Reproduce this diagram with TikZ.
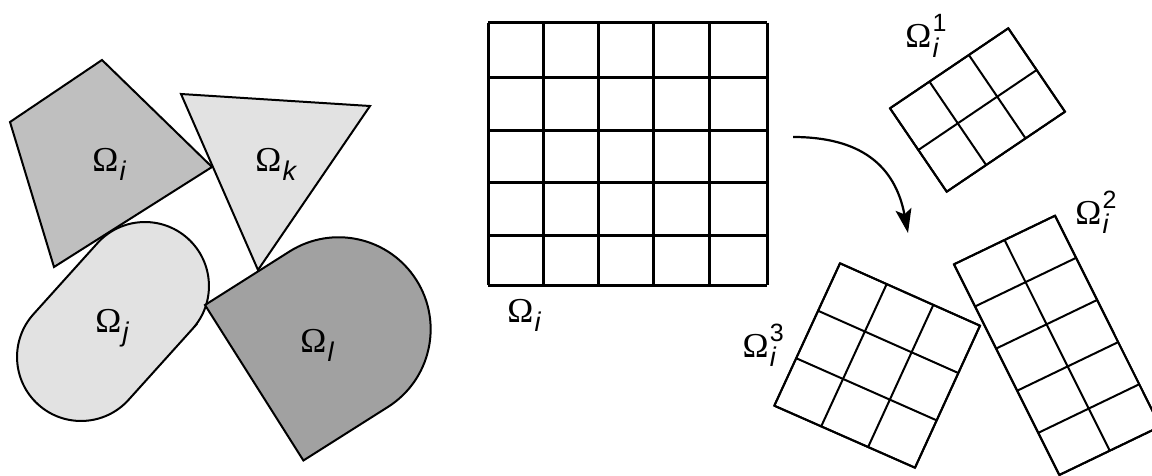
\documentclass[tikz,border=0pt]{standalone}
\usepackage{fontspec}
\usetikzlibrary{arrows.meta,calc}
\newfontfamily\omfont{Liberation Serif}
\newfontfamily\lsans{Liberation Sans}
\newcommand{\Omlab}[2]{{\omfont\fontsize{17.5}{17.5}\selectfont Ω}\kern0.6pt\makebox[0pt][l]{\raisebox{-4.6pt}{\lsans\itshape\fontsize{13.5}{13.5}\selectfont #1}}{\raisebox{8pt}{\lsans\fontsize{12.5}{12.5}\selectfont #2}}}
\definecolor{gmid}{gray}{0.75}
\definecolor{glight}{gray}{0.886}
\definecolor{gdark}{gray}{0.63}
\tikzset{
  region/.style={draw=black, line width=1pt, line join=miter},
  lab/.style={anchor=base west, inner sep=0pt},
  biggrid/.style={draw=black, line width=1.5pt},
  smallgrid/.style={draw=black, line width=1pt},
  arr/.style={draw=black, line width=1.1pt, -{Stealth[length=12pt,width=8pt,inset=2.5pt]}}
}
\begin{document}
\begin{tikzpicture}[x=0.5pt,y=-0.5pt]
\clip (0,0) rectangle (1152,476);
\fill[white] (0,0) rectangle (1152,476);
% left panel
\path[region, fill=gmid] (10,122) -- (102,60) -- (212,167) -- (54,267) -- cycle;
\path[region, fill=glight] (181,94) -- (370,106) -- (258,270) -- cycle;
\path[region, fill=glight] (192.6,328.8) -- (128.6,399.8) arc[start angle=42, end angle=222, radius=64]
   -- (97.4,243.2) arc[start angle=222, end angle=402, radius=64] -- cycle;
\path[region, fill=gdark] (205,305) -- (289.5,251.5) arc[start angle=-122.3, end angle=57.7, radius=92]
   -- (303.4,460.5) -- cycle;
\node[lab] (li) at (92,171) {\Omlab{i}{}};
\node[lab] (lk) at (255,171) {\Omlab{k}{}};
\node[lab] (lj) at (95,332) {\Omlab{j}{}};
\node[lab] (ll) at (300,352) {\Omlab{l}{}};
% big grid
\foreach \xx in {488,543,598,653,709,767}
  \draw[biggrid] (\xx,22.7) -- (\xx,285);
\foreach \yy in {22.7,78,130.7,183,235.7,285}
  \draw[biggrid] (488,\yy) -- (767,\yy);
\node[lab] (lbig) at (507,322) {\Omlab{i}{}};
% arrow
\coordinate (arrS) at (793,137);
\coordinate (arrE) at (908,233);
\draw[arr] (arrS) .. controls (860,137) and (895,165) .. (arrE);
% grid 1 (3 x 2)
\coordinate (g1P) at (890,108.3);
\coordinate (g1Q) at (1008.3,28.3);
\coordinate (g1R) at (946.7,191.7);
\coordinate (g1S) at (1065,111.7);
\foreach \k in {0,1,2,3}
  \draw[smallgrid] ($(g1P)!\k/3!(g1Q)$) -- ($(g1R)!\k/3!(g1S)$);
\foreach \k in {0,1,2}
  \draw[smallgrid] ($(g1P)!\k/2!(g1R)$) -- ($(g1Q)!\k/2!(g1S)$);
\draw[smallgrid] (g1P) -- (g1Q) -- (g1S) -- (g1R) -- cycle;
\node[lab] (l1) at (905,48) {\Omlab{i}{1}};
% grid 2 (2 x 5)
\coordinate (g2P) at (954,264.3);
\coordinate (g2Q) at (1055,215.7);
\coordinate (g2R) at (1059.3,475);
\coordinate (g2S) at (1160.3,426.4);
\foreach \k in {0,1,2}
  \draw[smallgrid] ($(g2P)!\k/2!(g2Q)$) -- ($(g2R)!\k/2!(g2S)$);
\foreach \k in {0,1,2,3,4,5}
  \draw[smallgrid] ($(g2P)!\k/5!(g2R)$) -- ($(g2Q)!\k/5!(g2S)$);
\draw[smallgrid] (g2P) -- (g2Q) -- (g2S) -- (g2R) -- cycle;
\node[lab] (l2) at (1075,224.5) {\Omlab{i}{2}};
% grid 3 (3 x 3)
\coordinate (g3P) at (840,263.3);
\coordinate (g3Q) at (980,325.7);
\coordinate (g3R) at (774.3,405.7);
\coordinate (g3S) at (915,467.7);
\foreach \k in {0,1,2,3}
  \draw[smallgrid] ($(g3P)!\k/3!(g3Q)$) -- ($(g3R)!\k/3!(g3S)$);
\foreach \k in {0,1,2,3}
  \draw[smallgrid] ($(g3P)!\k/3!(g3R)$) -- ($(g3Q)!\k/3!(g3S)$);
\draw[smallgrid] (g3P) -- (g3Q) -- (g3S) -- (g3R) -- cycle;
\node[lab] (l3) at (742.3,357.7) {\Omlab{i}{3}};
\end{tikzpicture}
\end{document}
